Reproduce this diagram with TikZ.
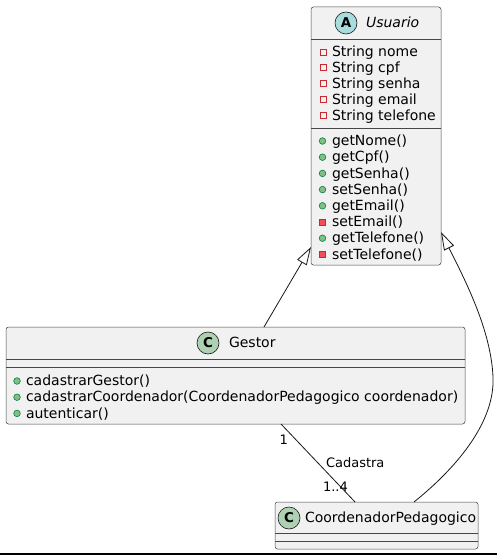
\documentclass[tikz,border=0pt]{standalone}
\usepackage{fontspec}
\setmainfont{DejaVu Sans}
\usetikzlibrary{arrows.meta,calc}
\definecolor{bordc}{HTML}{181818}
\definecolor{boxfill}{HTML}{F1F1F1}
\definecolor{absc}{HTML}{A9DCDF}
\definecolor{clsc}{HTML}{ADD1B2}
\definecolor{privc}{HTML}{C82930}
\definecolor{privf}{HTML}{F24D5C}
\definecolor{pubc}{HTML}{038048}
\definecolor{pubf}{HTML}{84BE84}
\newcommand\myPubIcon[2]{\draw[pubc,fill=pubf,line width=0.6bp] (#1,#2) circle (3.3bp);}
\newcommand\myPrivIcon[2]{\draw[privc,fill=privf,line width=0.6bp] (#1-3.2,#2-3.2) rectangle (#1+3.2,#2+3.2);}
\newcommand\myAttrIcon[2]{\draw[privc,line width=0.8bp] (#1-3,#2-3) rectangle (#1+3,#2+3);}
\begin{document}
\begin{tikzpicture}[x=1bp,y=-1bp,
  box/.style={draw=bordc!80,fill=boxfill,line width=0.5bp,rounded corners=2.5bp,inner sep=0,outer sep=0,anchor=north west},
  div/.style={draw=bordc!80,line width=0.5bp},
  txt/.style={anchor=base west,inner sep=0,outer sep=0,font=\fontsize{14bp}{16bp}\selectfont,text=black},
  lbl/.style={anchor=base west,inner sep=0,outer sep=0,font=\fontsize{13bp}{15bp}\selectfont,text=black},
  badge/.style={circle,draw=bordc,line width=0.6bp,minimum size=22bp,inner sep=0,font=\fontsize{13.5bp}{13.5bp}\selectfont\bfseries},
  conn/.style={draw=bordc,line width=0.8bp},
  inh/.style={conn,-{Triangle[length=18bp,width=11bp,fill=white]}}
]
\useasboundingbox (0,0) rectangle (497,556);
\fill[white] (0,0) rectangle (497,556);

% Usuario
\node[box,minimum width=130bp,minimum height=258bp] (usuario) at (311,7) {};
\draw[div] (311,39) -- (441,39);
\draw[div] (311,128) -- (441,128);
\node[badge,fill=absc] (ubadge) at (346,23) {A};
\node[txt,font=\fontsize{14bp}{16bp}\selectfont\itshape] (uname) at (366,27.7) {Usuario};
\myAttrIcon{323}{52}
\node[txt] (ua1) at (332,56.7) {String nome};
\myAttrIcon{323}{67.9}
\node[txt] (ua2) at (332,72.6) {String cpf};
\myAttrIcon{323}{83.8}
\node[txt] (ua3) at (332,88.5) {String senha};
\myAttrIcon{323}{99.7}
\node[txt] (ua4) at (332,104.4) {String email};
\myAttrIcon{323}{115.6}
\node[txt] (ua5) at (332,120.3) {String telefone};

\myPubIcon{322.5}{141}
\node[txt] (um1) at (332,145.7) {getNome()};
\myPubIcon{322.5}{157.2}
\node[txt] (um2) at (332,161.9) {getCpf()};
\myPubIcon{322.5}{173.4}
\node[txt] (um3) at (332,178.1) {getSenha()};
\myPubIcon{322.5}{189.6}
\node[txt] (um4) at (332,194.3) {setSenha()};
\myPubIcon{322.5}{205.8}
\node[txt] (um5) at (332,210.5) {getEmail()};
\myPrivIcon{322.5}{222}
\node[txt] (um6) at (332,226.7) {setEmail()};
\myPubIcon{322.5}{238.2}
\node[txt] (um7) at (332,242.9) {getTelefone()};
\myPrivIcon{322.5}{254.4}
\node[txt] (um8) at (332,259.1) {setTelefone()};

% Gestor
\node[box,minimum width=459bp,minimum height=97bp] (gestor) at (6,327) {};
\draw[div] (6,359) -- (465,359);
\draw[div] (6,367) -- (465,367);
\node[badge,fill=clsc] (gbadge) at (208,343) {C};
\node[txt] (gname) at (229,347.7) {Gestor};
\myPubIcon{17}{381}
\node[txt] (gm1) at (26,385.7) {cadastrarGestor()};
\myPubIcon{17}{397.2}
\node[txt] (gm2) at (26,401.9) {cadastrarCoordenador(CoordenadorPedagogico coordenador)};
\myPubIcon{17}{413.4}
\node[txt] (gm3) at (26,418.1) {autenticar()};

% CoordenadorPedagogico
\node[box,minimum width=203bp,minimum height=47bp] (coord) at (275,502) {};
\draw[div] (275,533) -- (478,533);
\draw[div] (275,541) -- (478,541);
\node[badge,fill=clsc] (cbadge) at (289,518) {C};
\node[txt] (cname) at (305,522.7) {CoordenadorPedagogico};

% connectors
\draw[inh] ([xshift=258bp]gestor.north west) -- ([yshift=18bp]usuario.south west);
\draw[inh] ([xshift=139bp]coord.north west) .. controls (460,465) and (495,420) .. (493,377)
  .. controls (491,330) and (465,280) .. ([yshift=33bp]usuario.south east);
\draw[conn] ([xshift=275bp]gestor.south west) -- ([xshift=80bp]coord.north west);
\node[lbl] (m1) at (279.5,444.5) {1};
\node[lbl] (mlbl) at (326,467.5) {Cadastra};
\node[lbl] (m2) at (323,491.5) {1..4};

% bottom rule
\fill[black] (0,553) rectangle (497,555);
\end{tikzpicture}
\end{document}
